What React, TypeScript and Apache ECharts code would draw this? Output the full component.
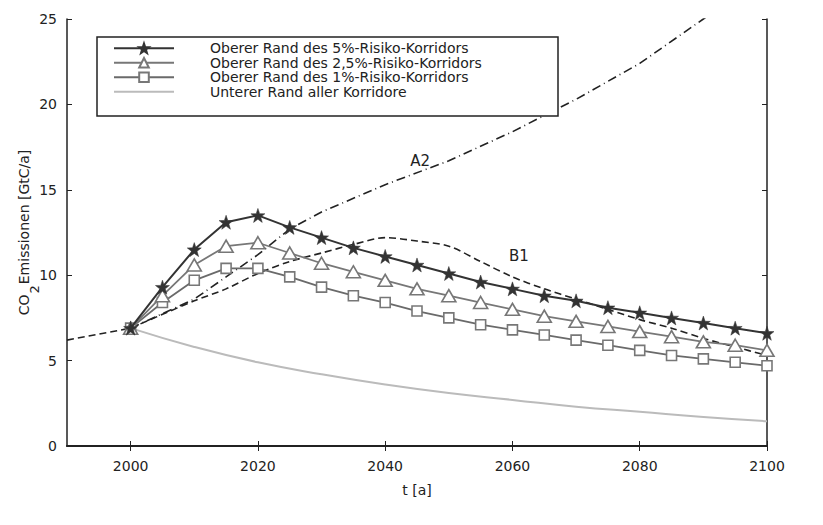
import React, { useEffect, useRef } from "react";
import * as echarts from "echarts";

const years = [2000, 2005, 2010, 2015, 2020, 2025, 2030, 2035, 2040, 2045, 2050, 2055, 2060, 2065, 2070, 2075, 2080, 2085, 2090, 2095, 2100];
const risk5 = [6.9, 9.3, 11.5, 13.1, 13.5, 12.8, 12.2, 11.6, 11.1, 10.6, 10.1, 9.6, 9.2, 8.8, 8.5, 8.1, 7.8, 7.5, 7.2, 6.9, 6.6];
const risk25 = [6.9, 8.8, 10.6, 11.7, 11.9, 11.3, 10.7, 10.2, 9.7, 9.2, 8.8, 8.4, 8.0, 7.6, 7.3, 7.0, 6.7, 6.4, 6.1, 5.9, 5.6];
const risk1 = [6.9, 8.4, 9.7, 10.4, 10.4, 9.9, 9.3, 8.8, 8.4, 7.9, 7.5, 7.1, 6.8, 6.5, 6.2, 5.9, 5.6, 5.3, 5.1, 4.9, 4.7];

const lowerYears = [2000, 2010, 2020, 2030, 2040, 2050, 2060, 2070, 2080, 2090, 2100];
const lower = [6.9, 5.8, 4.9, 4.2, 3.6, 3.1, 2.7, 2.3, 2.0, 1.7, 1.45];

const histYears = [1990, 2000];
const hist = [6.2, 6.9];

const b1Years = [2000, 2010, 2015, 2020, 2025, 2030, 2035, 2040, 2045, 2050, 2055, 2060, 2065, 2070, 2075, 2080, 2085, 2090, 2095, 2100];
const b1 = [6.9, 8.5, 9.2, 10.1, 10.8, 11.3, 11.8, 12.2, 12.0, 11.7, 10.8, 9.9, 9.2, 8.6, 8.0, 7.4, 6.9, 6.3, 5.8, 5.3];

const a2Years = [2000, 2010, 2015, 2020, 2025, 2030, 2040, 2050, 2060, 2070, 2080, 2090, 2100];
const a2 = [6.9, 8.6, 9.9, 11.2, 12.7, 13.7, 15.3, 16.7, 18.4, 20.3, 22.4, 25.0, 27.6];

const legendNames = [
  "Oberer Rand des 5%-Risiko-Korridors",
  "Oberer Rand des 2,5%-Risiko-Korridors",
  "Oberer Rand des 1%-Risiko-Korridors",
  "Unterer Rand aller Korridore",
];
const xTicks = [2000, 2020, 2040, 2060, 2080, 2100];

const FONT = "DejaVu Sans";
const STAR = "path://M0,-10 L2.35,-3.24 9.51,-3.09 3.8,1.24 5.88,8.09 0,4 -5.88,8.09 -3.8,1.24 -9.51,-3.09 -2.35,-3.24Z";

const zip = (xs: number[], ys: number[]) => xs.map((x, i) => [x, ys[i]]);

export default function App() {
  const ref = useRef<HTMLDivElement>(null);
  useEffect(() => {
    if (!ref.current) return;
    const chart = echarts.init(ref.current, null, { renderer: "svg" });
    const axisLine = { show: true, lineStyle: { color: "#222", width: 1.5 } };
    chart.setOption({
      animation: false,
      backgroundColor: "#fff",
      textStyle: { fontFamily: FONT },
      grid: { left: 67, right: 56, top: 19, bottom: 79, containLabel: false, outerBoundsMode: "none" },
      legend: {
        data: legendNames,
        orient: "vertical",
        left: 113,
        top: 41,
        padding: 0,
        itemGap: 0,
        itemWidth: 60,
        itemHeight: 12,
        z: 10,
        textStyle: { fontFamily: FONT, fontSize: 14, color: "#222", lineHeight: 14.5, padding: [0, 0, 0, 31] },
      },
      graphic: [
        {
          type: "rect",
          z: 8,
          shape: { x: 97, y: 37, width: 461, height: 79 },
          style: { fill: "#fff", stroke: "#222", lineWidth: 1.5 },
        },
      ],
      xAxis: [
        {
          type: "value",
          min: 1990,
          max: 2100,
          name: "t [a]",
          nameLocation: "middle",
          nameGap: 37,
          nameMoveOverlap: false,
          nameTextStyle: { fontFamily: FONT, fontSize: 14, color: "#222" },
          axisLine: { show: true, lineStyle: { color: "#222", width: 2 } },
          axisTick: { show: true, inside: true, length: 5, customValues: xTicks, lineStyle: { color: "#222" } },
          axisLabel: {
            customValues: xTicks,
            formatter: (v: number) => String(v),
            fontFamily: FONT,
            fontSize: 14,
            color: "#222",
            margin: 13,
          },
          splitLine: { show: false },
        },
        {
          type: "value",
          position: "top",
          min: 1990,
          max: 2100,
          axisLine,
          axisTick: { show: true, inside: true, length: 5, customValues: xTicks, lineStyle: { color: "#222" } },
          axisLabel: { show: false },
          splitLine: { show: false },
        },
      ],
      yAxis: [
        {
          type: "value",
          min: 0,
          max: 25,
          interval: 5,
          name: "{a|CO}{b|2}{a|Emissionen [GtC/a]}",
          nameLocation: "middle",
          nameGap: 30,
          nameMoveOverlap: false,
          nameTextStyle: {
            rich: {
              a: { fontFamily: FONT, fontSize: 14, color: "#222", lineHeight: 16, padding: [0, 0, 10, 0] },
              b: { fontFamily: FONT, fontSize: 13, color: "#222", lineHeight: 16, padding: [10, 1, 0, 1] },
            },
          },
          axisLine,
          axisTick: { show: true, inside: true, length: 5, lineStyle: { color: "#222" } },
          axisLabel: { fontFamily: FONT, fontSize: 14, color: "#222", margin: 10 },
          splitLine: { show: false },
        },
        {
          type: "value",
          position: "right",
          min: 0,
          max: 25,
          interval: 5,
          axisLine,
          axisTick: { show: true, inside: true, length: 5, lineStyle: { color: "#222" } },
          axisLabel: { show: false },
          splitLine: { show: false },
        },
      ],
      series: [
        {
          name: "Historisch",
          type: "line",
          data: zip(histYears, hist),
          showSymbol: false,
          lineStyle: { color: "#222", width: 1.6, type: [7, 4] },
          z: 1,
        },
        {
          name: "B1",
          type: "line",
          data: zip(b1Years, b1),
          showSymbol: false,
          smooth: 0.3,
          lineStyle: { color: "#222", width: 1.6, type: [7, 4] },
          z: 1,
          markPoint: {
            symbol: "circle",
            symbolSize: 0,
            data: [{ coord: [2061, 11.1], value: "B1" }],
            label: { show: true, formatter: "B1", fontFamily: FONT, fontSize: 15, color: "#222" },
          },
        },
        {
          name: "A2",
          type: "line",
          data: zip(a2Years, a2),
          showSymbol: false,
          lineStyle: { color: "#222", width: 1.6, type: [9, 4, 1, 4] },
          z: 1,
          markPoint: {
            symbol: "circle",
            symbolSize: 0,
            data: [{ coord: [2045.5, 16.7], value: "A2" }],
            label: { show: true, formatter: "A2", fontFamily: FONT, fontSize: 15, color: "#222" },
          },
        },
        {
          name: legendNames[3],
          type: "line",
          data: zip(lowerYears, lower),
          smooth: true,
          showSymbol: false,
          symbol: "none",
          itemStyle: { color: "rgba(0,0,0,0)", borderColor: "rgba(0,0,0,0)", borderWidth: 0 },
          lineStyle: { color: "#bbb", width: 2 },
          z: 2,
        },
        {
          name: legendNames[2],
          type: "line",
          data: zip(years, risk1),
          symbol: "rect",
          symbolSize: 10,
          itemStyle: { color: "#fff", borderColor: "#777", borderWidth: 1.6 },
          lineStyle: { color: "#6a6a6a", width: 1.8 },
          z: 3,
        },
        {
          name: legendNames[1],
          type: "line",
          data: zip(years, risk25),
          symbol: "triangle",
          symbolSize: [14, 12],
          itemStyle: { color: "#fff", borderColor: "#777", borderWidth: 1.6 },
          lineStyle: { color: "#777", width: 1.8 },
          z: 4,
        },
        {
          name: legendNames[0],
          type: "line",
          data: zip(years, risk5),
          symbol: STAR,
          symbolSize: 14,
          itemStyle: { color: "#333", borderColor: "#333", borderWidth: 0.5 },
          lineStyle: { color: "#333", width: 2 },
          z: 5,
        },
      ],
    });
    return () => chart.dispose();
  }, []);
  return <div ref={ref} style={{ width: 823, height: 525, marginLeft: -8, marginTop: -8 }} />;
}
